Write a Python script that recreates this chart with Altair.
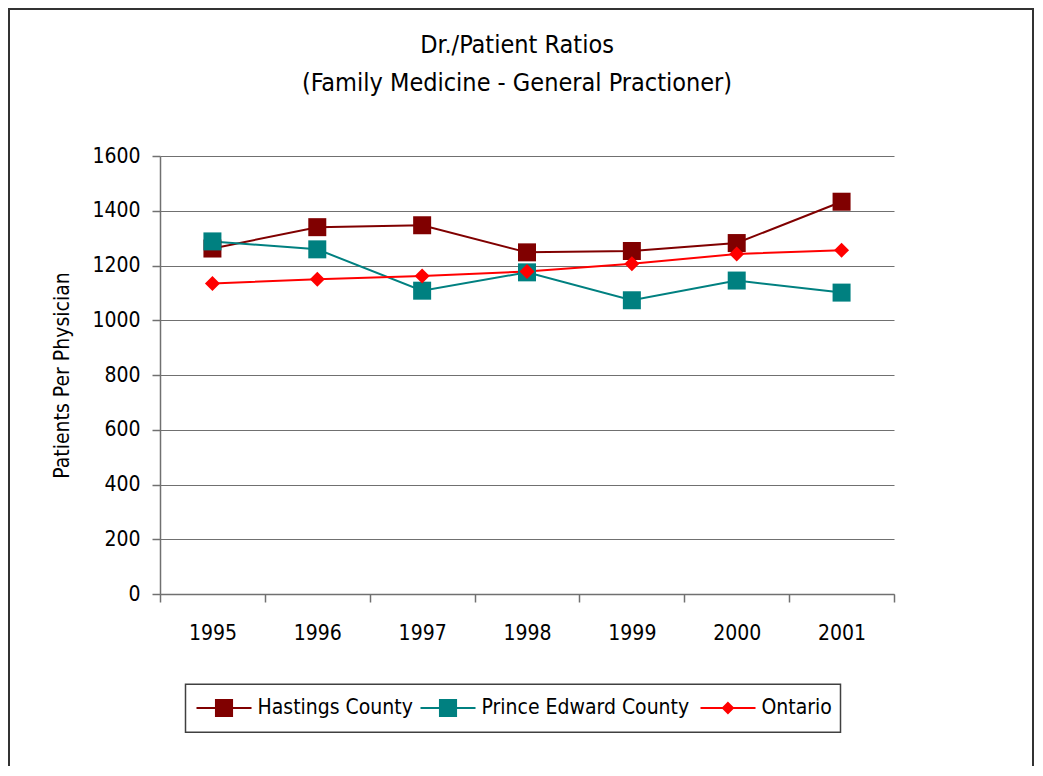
import altair as alt
import pandas as pd

years = ["1995", "1996", "1997", "1998", "1999", "2000", "2001"]
series_names = ["Hastings County", "Prince Edward County", "Ontario"]
hastings = [1262, 1340, 1347, 1248, 1253, 1282, 1433]
prince_edward = [1288, 1259, 1108, 1175, 1073, 1145, 1101]
ontario = [1134, 1150, 1162, 1178, 1206, 1242, 1256]
colors = ["#800000", "#008080", "#FF0000"]
title_lines = ["Dr./Patient Ratios", "(Family Medicine - General Practioner)"]
y_title = "Patients Per Physician"

FONT = "DejaVu Sans Condensed, DejaVu Sans, sans-serif"
FS = 21

rows = []
for name, vals in zip(series_names, [hastings, prince_edward, ontario]):
    for yr, v in zip(years, vals):
        rows.append({"Year": yr, "Series": name, "Value": v})
df = pd.DataFrame(rows)

# legend symbol paths: a line with the marker on it (symbol diameter 28px)
sq_path = "M-1,0H2.93M0.39,-0.57H1.54V0.57H0.39Z"
dia_path = "M-1,0H2.93M0.96,-0.36L1.32,0L0.96,0.36L0.6,0Z"

x = alt.X(
    "Year:O",
    scale=alt.Scale(paddingInner=0, paddingOuter=0),
    axis=alt.Axis(
        title=None, labelAngle=0, grid=False, tickBand="extent", tickSize=8,
        labelPadding=20, labelFont=FONT, labelFontSize=FS, labelColor="black",
        domainColor="#707070", domainWidth=1.5, tickColor="#707070", tickWidth=1.5,
    ),
)
y = alt.Y(
    "Value:Q",
    scale=alt.Scale(domain=[0, 1600]),
    axis=alt.Axis(
        title=y_title, values=list(range(0, 1601, 200)), format="d", tickSize=8, labelPadding=12,
        labelFont=FONT, labelFontSize=FS, labelColor="black",
        titleFont=FONT, titleFontSize=FS, titleFontWeight="normal", titleColor="black", titlePadding=19,
        gridColor="#707070", gridWidth=1, domainColor="#707070", domainWidth=1.5,
        tickColor="#707070", tickWidth=1.5,
    ),
)
color = alt.Color("Series:N", scale=alt.Scale(domain=series_names, range=colors), legend=None)

base = alt.Chart(df)
lines = base.mark_line(strokeWidth=2).encode(x=x, y=y, color=color)
squares = base.transform_filter(alt.datum.Series != "Ontario").mark_square(
    size=324, opacity=1
).encode(x=x, y=y, color=color)
diamonds = base.transform_filter(alt.datum.Series == "Ontario").mark_point(
    shape="diamond", filled=True, size=225, opacity=1
).encode(x=x, y=y, color=color)


def leg(lx, sym=None):
    kw = dict(
        title=None, orient="none", legendX=lx, legendY=537, padding=0,
        symbolSize=784, symbolStrokeWidth=2, symbolOpacity=1, labelOffset=32,
        labelFont=FONT, labelFontSize=FS, labelColor="black", labelLimit=500,
    )
    if sym is not None:
        kw["symbolType"] = sym
    return alt.Legend(**kw)


# invisible layers that only carry the legend entries
leg1 = base.transform_filter(alt.datum.Series == series_names[0]).mark_point(
    filled=True, fill=colors[0], stroke=colors[0], opacity=0
).encode(
    x=x, y=y,
    shape=alt.Shape("Series:N", scale=alt.Scale(domain=[series_names[0]], range=[sq_path]), legend=leg(35.5)),
)
leg2 = base.transform_filter(alt.datum.Series == series_names[1]).mark_point(
    filled=True, stroke=colors[1], shape=sq_path, opacity=0
).encode(
    x=x, y=y,
    fill=alt.Fill("Series:N", scale=alt.Scale(domain=[series_names[1]], range=[colors[1]]),
                  legend=leg(259.5, sq_path)),
)
leg3 = base.transform_filter(alt.datum.Series == series_names[2]).mark_point(
    filled=True, fill=colors[2], shape=dia_path, opacity=0
).encode(
    x=x, y=y,
    stroke=alt.Stroke("Series:N", scale=alt.Scale(domain=[series_names[2]], range=[colors[2]]),
                      legend=leg(539.5, dia_path)),
)

frame = alt.Chart(alt.Data(values=[{"k": 1}])).mark_rect(
    fill=None, stroke="#333333", strokeWidth=2, clip=False
).encode(
    x=alt.value(-151), x2=alt.value(873), y=alt.value(-147), y2=alt.value(800)
)
legend_box = alt.Chart(alt.Data(values=[{"k": 1}])).mark_rect(
    fill="white", stroke="#404040", strokeWidth=1.5, clip=False
).encode(
    x=alt.value(25.5), x2=alt.value(680.5), y=alt.value(528.3), y2=alt.value(576.3)
)

chart = alt.layer(frame, legend_box, lines, squares, diamonds, leg1, leg2, leg3).properties(
    width=734,
    height=438,
    background="white",
    autosize=alt.AutoSizeParams(type="none"),
    padding={"left": 152, "top": 148, "right": 140, "bottom": 172},
    title=alt.TitleParams(
        text=title_lines, font=FONT, fontSize=25, fontWeight="normal", color="black",
        anchor="middle", frame="group", baseline="alphabetic", offset=-108, lineHeight=38, dx=-10,
    ),
).configure_view(stroke=None)

chart.save("out.html", embed_options={"renderer": "svg", "actions": False})
